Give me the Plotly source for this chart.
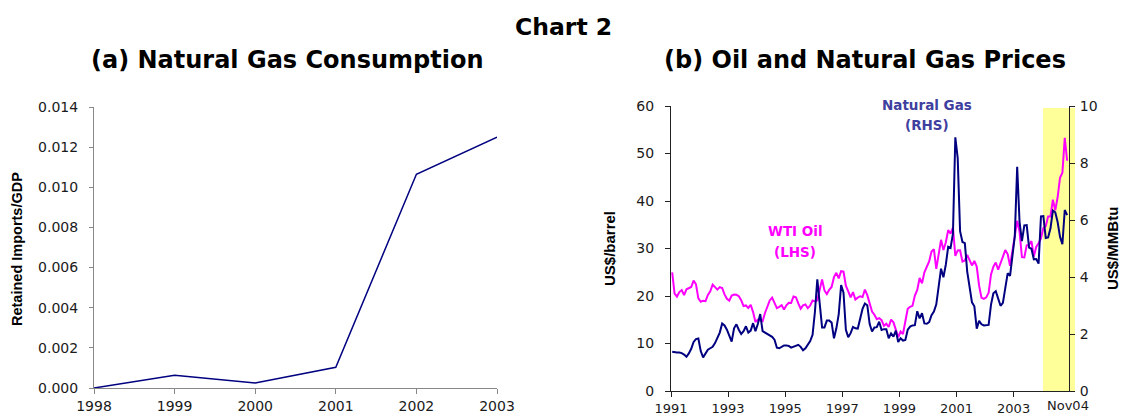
import plotly.graph_objects as go

W, H = 1127, 415
OFF = 8                     # page body margin in which the figure sits
FW, FH = W - OFF, H - OFF   # figure size so that it fills the window

# ---------------- Panel (a): Natural Gas Consumption ----------------
years_a = [1998, 1999, 2000, 2001, 2002, 2003]
retained_imports_gdp = [0.0000, 0.00063, 0.00025, 0.00103, 0.01065, 0.0125]

# ---------------- Panel (b): Oil and Natural Gas Prices (monthly, Jan 1991 - Nov 2004) ----------------
start_year = 1991
wti_oil = [
    24.96, 20.52, 19.88, 20.83, 21.23, 20.19, 21.40, 21.69, 21.89, 23.23, 22.46, 19.50,  # 1991
    18.79, 19.01, 18.92, 20.23, 20.98, 22.39, 21.78, 21.34, 21.88, 21.69, 20.34, 19.41,  # 1992
    19.03, 20.09, 20.32, 20.25, 19.95, 19.09, 17.89, 18.01, 17.50, 18.15, 16.61, 14.52,  # 1993
    15.03, 14.78, 14.68, 16.42, 17.89, 19.06, 19.66, 18.38, 17.45, 17.72, 18.07, 17.16,  # 1994
    18.04, 18.57, 18.54, 19.90, 19.74, 18.45, 17.33, 18.02, 18.23, 17.43, 17.99, 19.03,  # 1995
    18.85, 19.09, 21.33, 23.50, 21.17, 20.42, 21.30, 21.90, 23.97, 24.88, 23.71, 25.23,  # 1996
    25.13, 22.18, 20.97, 19.70, 20.82, 19.26, 19.66, 19.95, 19.80, 21.33, 20.19, 18.33,  # 1997
    16.72, 16.06, 15.12, 15.35, 14.91, 13.72, 14.17, 13.47, 15.03, 14.46, 13.00, 11.35,  # 1998
    12.52, 12.01, 14.68, 17.31, 17.72, 17.92, 20.10, 21.28, 23.80, 22.69, 25.00, 26.10,  # 1999
    27.26, 29.37, 29.84, 25.72, 28.79, 31.82, 29.70, 31.26, 33.88, 33.11, 34.42, 28.44,  # 2000
    29.59, 29.61, 27.24, 27.49, 28.63, 27.60, 26.43, 27.37, 26.20, 22.17, 19.64, 19.39,  # 2001
    19.72, 20.72, 24.53, 26.18, 27.04, 25.52, 26.97, 28.39, 29.66, 28.84, 26.35, 29.46,  # 2002
    32.95, 35.83, 33.51, 28.17, 28.11, 30.66, 30.76, 31.57, 28.31, 30.34, 31.11, 32.13,  # 2003
    34.31, 34.69, 36.74, 36.75, 40.28, 38.03, 40.78, 44.90, 45.94, 53.28, 48.47,         # 2004
]
natural_gas = [
    1.38, 1.36, 1.35, 1.35, 1.33, 1.28, 1.20, 1.32, 1.48, 1.72, 1.82, 1.84,  # 1991
    1.40, 1.18, 1.30, 1.45, 1.50, 1.55, 1.68, 1.85, 2.05, 2.37, 2.30, 2.15,  # 1992
    1.95, 1.73, 2.20, 2.34, 2.15, 2.00, 2.10, 2.27, 2.05, 2.12, 2.38, 2.10,  # 1993
    2.35, 2.70, 2.10, 2.05, 2.00, 1.95, 1.90, 1.80, 1.52, 1.50, 1.55, 1.60,  # 1994
    1.60, 1.58, 1.52, 1.55, 1.58, 1.62, 1.55, 1.43, 1.50, 1.62, 1.75, 1.97,  # 1995
    2.78, 3.92, 3.15, 2.23, 2.23, 2.47, 2.47, 2.40, 1.85, 2.20, 2.70, 3.72,  # 1996
    3.45, 2.15, 1.89, 2.03, 2.25, 2.20, 2.19, 2.49, 2.88, 3.07, 3.01, 2.35,  # 1997
    2.09, 2.23, 2.24, 2.43, 2.14, 2.17, 2.17, 1.85, 2.02, 1.91, 2.12, 1.72,  # 1998
    1.85, 1.77, 1.79, 2.15, 2.26, 2.30, 2.31, 2.80, 2.55, 2.73, 2.37, 2.36,  # 1999
    2.42, 2.66, 2.79, 3.04, 3.59, 4.29, 3.99, 4.43, 5.06, 5.02, 5.52, 8.90,  # 2000
    8.17, 5.61, 5.23, 5.19, 4.19, 3.72, 3.11, 2.97, 2.19, 2.46, 2.34, 2.30,  # 2001
    2.32, 2.32, 3.03, 3.43, 3.50, 3.26, 2.99, 3.09, 3.55, 4.13, 4.04, 4.74,  # 2002
    5.43, 7.87, 5.93, 5.26, 5.81, 5.82, 5.03, 4.99, 4.62, 4.63, 4.47, 6.13,  # 2003
    6.14, 5.37, 5.39, 5.71, 6.33, 6.27, 5.93, 5.41, 5.15, 6.35, 6.17,        # 2004
]
tick_years_b = [1991, 1993, 1995, 1997, 1999, 2001, 2003]
x_b = [start_year + (i + 0.5) / 12 for i in range(len(wti_oil))]

tick_font = dict(family="DejaVu Sans", size=14, color="#1a1a1a")
tick_font_xb = dict(family="DejaVu Sans", size=13, color="#1a1a1a")
title_font = dict(family="DejaVu Sans", size=24, color="#000000")
axis_title_font = dict(family="Liberation Sans, Arial", size=14.5, color="#000000")
axis_title_font_b = dict(family="Liberation Sans, Arial", size=15, color="#000000")


def px_x(p):
    return (p - OFF) / FW


def px_y(p):
    return 1 - (p - OFF) / FH


fig = go.Figure()
fig.add_trace(go.Scatter(x=years_a, y=retained_imports_gdp, mode="lines",
                         line=dict(color="#000080", width=1.5), xaxis="x", yaxis="y",
                         hoverinfo="skip"))
fig.add_trace(go.Scatter(x=x_b, y=wti_oil, mode="lines", name="WTI Oil (LHS)",
                         line=dict(color="#FF00FF", width=2), xaxis="x2", yaxis="y2"))
fig.add_trace(go.Scatter(x=x_b, y=natural_gas, mode="lines", name="Natural Gas (RHS)",
                         line=dict(color="#000080", width=2), xaxis="x2", yaxis="y3"))

common = dict(showgrid=False, zeroline=False, showline=True, ticks="outside", linewidth=1)

fig.update_layout(
    width=FW, height=FH, template="none", showlegend=False,
    margin=dict(l=0, r=0, t=0, b=0, pad=0),
    paper_bgcolor="white", plot_bgcolor="rgba(0,0,0,0)",
    xaxis=dict(domain=[px_x(94), px_x(497)], range=[1998, 2003], anchor="y",
               tickvals=years_a, ticktext=[str(y) for y in years_a], tickfont=tick_font,
               linecolor="#888888", tickcolor="#888888", ticklen=5,
               ticklabelstandoff=0, automargin=False, **common),
    yaxis=dict(domain=[px_y(388), px_y(107)], range=[0, 0.014], dtick=0.002,
               tickformat=".3f", anchor="x", linecolor="#888888", tickcolor="#888888",
               tickfont=tick_font, ticklen=4, ticklabelstandoff=8, automargin=False, **common),
    xaxis2=dict(domain=[px_x(671), px_x(1069)], range=[1991, 2004.94], anchor="y2",
                tickvals=tick_years_b, ticktext=[str(y) for y in tick_years_b],
                tickfont=tick_font_xb, linecolor="#222222", tickcolor="#222222", ticklen=5,
                ticklabelstandoff=0, automargin=False, **common),
    yaxis2=dict(domain=[px_y(391), px_y(106)], range=[0, 60], dtick=10, anchor="x2",
                linecolor="#222222", tickcolor="#222222", ticklen=5, tickfont=tick_font,
                ticklabelstandoff=8, automargin=False, **common),
    yaxis3=dict(overlaying="y2", side="right", anchor="x2", range=[0, 10], dtick=2,
                linecolor="#222222", tickcolor="#222222", ticklen=5, tickfont=tick_font,
                ticklabelstandoff=2, automargin=False, **common),
)

# shaded 2004 band
fig.add_shape(type="rect", xref="paper", yref="paper",
              x0=px_x(1043), x1=px_x(1075), y0=px_y(391), y1=px_y(108),
              fillcolor="#FFFF99", line=dict(width=0), layer="below")

ann = []
ann.append(dict(text="<b>Chart 2</b>", x=px_x(563), y=px_y(27), font=dict(title_font, size=23.5)))
ann.append(dict(text="<b>(a) Natural Gas Consumption</b>", x=px_x(287), y=px_y(60), font=title_font))
ann.append(dict(text="<b>(b) Oil and Natural Gas Prices</b>", x=px_x(865), y=px_y(60), font=title_font))
ann.append(dict(text="<b>Retained Imports/GDP</b>", x=px_x(17), y=px_y(249), textangle=-90, font=axis_title_font))
ann.append(dict(text="<b>US$/barrel</b>", x=px_x(610), y=px_y(249), textangle=-90, font=axis_title_font_b))
ann.append(dict(text="<b>US$/MMBtu</b>", x=px_x(1113), y=px_y(249), textangle=-90, font=axis_title_font_b))
gas_lbl = dict(family="DejaVu Sans", size=13.5, color="#3F3FA0")
oil_lbl = dict(family="DejaVu Sans", size=13.5, color="#FF00FF")
ann.append(dict(text="<b>Natural Gas</b>", x=px_x(927), y=px_y(105), font=gas_lbl))
ann.append(dict(text="<b>(RHS)</b>", x=px_x(927), y=px_y(125), font=gas_lbl))
ann.append(dict(text="<b>WTI Oil</b>", x=px_x(795), y=px_y(231), font=oil_lbl))
ann.append(dict(text="<b>(LHS)</b>", x=px_x(795), y=px_y(252), font=oil_lbl))
ann.append(dict(text="Nov04", x=px_x(1068), y=px_y(405), font=tick_font_xb))

for a in ann:
    a.update(xref="paper", yref="paper", xanchor="center", yanchor="middle", showarrow=False)
fig.update_layout(annotations=ann)

fig.write_html("out.html")
